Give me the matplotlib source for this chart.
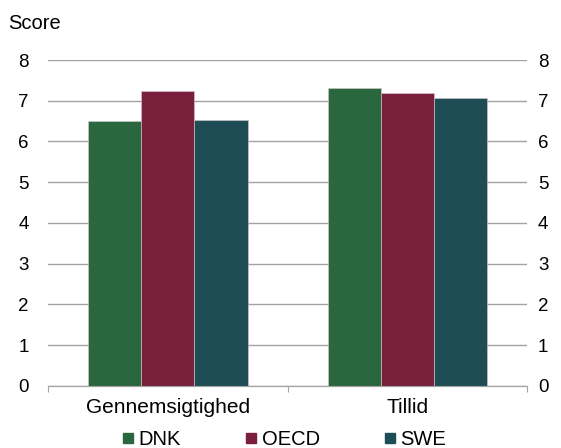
import matplotlib

matplotlib.use("Agg")

import matplotlib.pyplot as plt
import numpy as np
from matplotlib.lines import Line2D

plt.rcParams["font.family"] = ["Liberation Sans", "DejaVu Sans"]

CATEGORIES = ["Gennemsigtighed", "Tillid"]
SERIES = ["DNK", "OECD", "SWE"]
VALUES = {
    "DNK": [6.51, 7.31],
    "OECD": [7.25, 7.19],
    "SWE": [6.52, 7.06],
}
COLORS = {"DNK": "#2a673f", "OECD": "#7a1f3c", "SWE": "#1f4d55"}
YTICKS = [0, 1, 2, 3, 4, 5, 6, 7, 8]
GRID_GRAY = "#a3a3a3"


def main() -> None:
    fig = plt.figure(figsize=(5.61, 4.48), dpi=100)
    ax = fig.add_axes([0.0856, 0.139, 0.8538, 0.727])

    x = np.arange(len(CATEGORIES))
    width = 0.222
    for i, name in enumerate(SERIES):
        ax.bar(x + (i - 1) * width, VALUES[name], width, color=COLORS[name],
               edgecolor="#d8c8cc", linewidth=0.4, zorder=3)

    ax.set_xlim(-0.5, 1.5)
    ax.set_ylim(0, 8)
    ax.set_yticks(YTICKS)
    ax.tick_params(axis="y", length=0, labelsize=13.5, pad=14)
    ax.yaxis.grid(True, color=GRID_GRAY, linewidth=1.0, zorder=0)
    ax.set_axisbelow(True)

    # right-hand copy of the y labels, sits closer to the plot
    ax2 = ax.twinx()
    ax2.set_ylim(0, 8)
    ax2.set_yticks(YTICKS)
    ax2.tick_params(axis="y", length=0, labelsize=13.5, pad=8)

    ax.set_xticks([-0.5, 0.5, 1.5])
    ax.set_xticklabels([])
    ax.set_xticks(x, minor=True)
    ax.set_xticklabels(CATEGORIES, minor=True)
    ax.tick_params(axis="x", which="major", length=4.5, color=GRID_GRAY)
    ax.tick_params(axis="x", which="minor", length=0, labelsize=15, pad=9)

    for a in (ax, ax2):
        for side in ["left", "right", "top"]:
            a.spines[side].set_visible(False)
        a.spines["bottom"].set_color(GRID_GRAY)

    fig.text(0.014, 0.947, "Score", fontsize=14.5, va="center", ha="left")

    handles = [Line2D([], [], marker="s", linestyle="none", markersize=7.9,
                      markerfacecolor=COLORS[n], markeredgecolor=COLORS[n])
               for n in SERIES]
    fig.legend(handles, SERIES, loc="center", bbox_to_anchor=(0.507, 0.018),
               ncol=3, frameon=False, fontsize=14.5, handletextpad=0.25,
               columnspacing=3.2, handlelength=0.55, borderpad=0.0)

    fig.savefig("out.png", dpi=100)
    plt.close(fig)


if __name__ == "__main__":
    main()
